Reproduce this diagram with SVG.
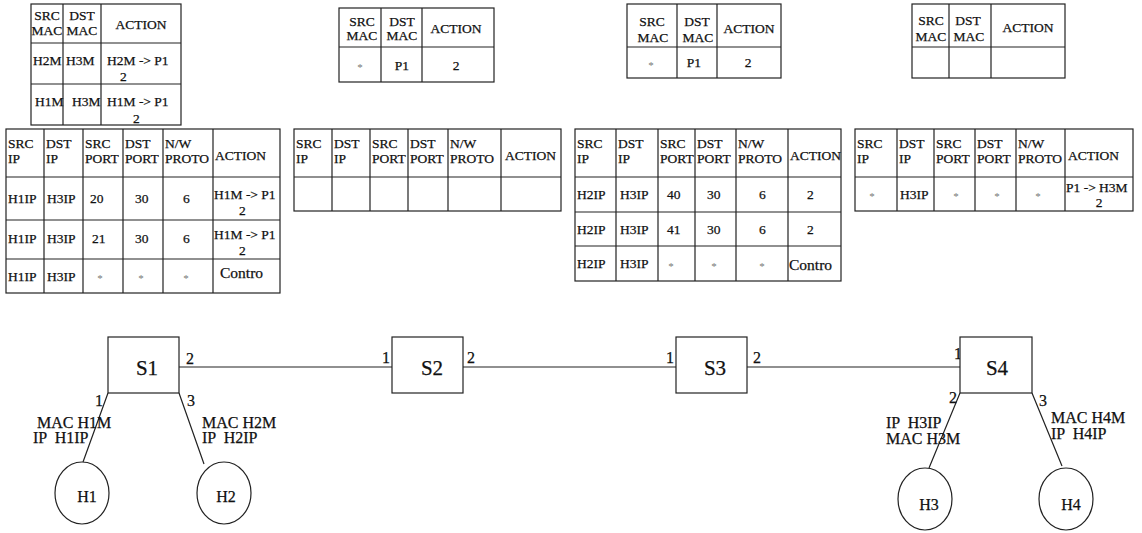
<svg xmlns="http://www.w3.org/2000/svg" width="1142" height="533" viewBox="0 0 1142 533">
<style>
text{font-family:'Liberation Serif','Times New Roman',Times,'DejaVu Serif',serif;stroke:#111;stroke-width:0.25}
.tb{fill:#fff;stroke:#222;stroke-width:1.2}
.gl{stroke:#222;stroke-width:1.2;fill:none}
.t{font-size:13.5px;fill:#111}
.c{text-anchor:middle}
.st{font-size:11px;fill:#777;stroke:none;text-anchor:middle}
.ct{font-size:15.5px;fill:#111}
.nd{fill:#fff;stroke:#222;stroke-width:1.2}
.nl{font-size:21px;fill:#111;text-anchor:middle}
.hl{font-size:16px;fill:#111;text-anchor:middle}
.lb{font-size:16px;fill:#111}
.ln{stroke:#222;stroke-width:1.2;fill:none}
</style>

<!-- S1 MAC table -->
<g id="s1-mac-table">
<rect class="tb" x="31" y="4" width="150" height="121"/>
<path class="gl" d="M63 4V125M101 4V125M31 43H181M31 84H181"/>
<text class="t c" x="47" y="20">SRC</text><text class="t c" x="47" y="35">MAC</text>
<text class="t c" x="82" y="20">DST</text><text class="t c" x="82" y="35">MAC</text>
<text class="t c" x="141" y="29">ACTION</text>
<text class="t" x="33" y="65">H2M</text><text class="t" x="66" y="65">H3M</text>
<text class="t" x="107" y="65">H2M -&gt; P1</text><text class="t" x="120" y="81">2</text>
<text class="t" x="35" y="106">H1M</text><text class="t" x="72" y="106">H3M</text>
<text class="t" x="107" y="106">H1M -&gt; P1</text><text class="t" x="133" y="123">2</text>
</g>

<!-- S1 IP table -->
<g id="s1-ip-table">
<rect class="tb" x="6" y="129" width="274" height="164"/>
<path class="gl" d="M44 129V293M83 129V293M123 129V293M163 129V293M213 129V293M6 177H280M6 220H280M6 259H280"/>
<text class="t" x="8" y="148">SRC</text><text class="t" x="8" y="163">IP</text>
<text class="t" x="46" y="148">DST</text><text class="t" x="46" y="163">IP</text>
<text class="t" x="85" y="148">SRC</text><text class="t" x="85" y="163">PORT</text>
<text class="t" x="125" y="148">DST</text><text class="t" x="125" y="163">PORT</text>
<text class="t" x="165" y="148">N/W</text><text class="t" x="165" y="163">PROTO</text>
<text class="t" x="215" y="160">ACTION</text>
<text class="t" x="8" y="203">H1IP</text><text class="t" x="47" y="203">H3IP</text>
<text class="t" x="90" y="203">20</text><text class="t" x="135" y="203">30</text><text class="t" x="183" y="203">6</text>
<text class="t" x="214" y="199">H1M -&gt; P1</text><text class="t" x="239" y="215">2</text>
<text class="t" x="8" y="243">H1IP</text><text class="t" x="47" y="243">H3IP</text>
<text class="t" x="92" y="243">21</text><text class="t" x="135" y="243">30</text><text class="t" x="183" y="243">6</text>
<text class="t" x="214" y="239">H1M -&gt; P1</text><text class="t" x="239" y="255">2</text>
<text class="t" x="8" y="281">H1IP</text><text class="t" x="47" y="281">H3IP</text>
<text class="st" x="100" y="282">*</text><text class="st" x="141" y="282">*</text><text class="st" x="186" y="282">*</text>
<text class="ct" x="220" y="278">Contro</text>
</g>

<!-- S2 MAC table -->
<g id="s2-mac-table">
<rect class="tb" x="339" y="8" width="155" height="74"/>
<path class="gl" d="M381 8V82M422 8V82M339 47H494"/>
<text class="t c" x="362" y="26">SRC</text><text class="t c" x="362" y="40">MAC</text>
<text class="t c" x="402" y="26">DST</text><text class="t c" x="402" y="40">MAC</text>
<text class="t c" x="456" y="33">ACTION</text>
<text class="st" x="360" y="71">*</text><text class="t c" x="402" y="70">P1</text><text class="t c" x="456" y="70">2</text>
</g>

<!-- S2 IP table -->
<g id="s2-ip-table">
<rect class="tb" x="294" y="129" width="267" height="82"/>
<path class="gl" d="M332 129V211M370 129V211M408 129V211M448 129V211M501 129V211M294 177H561"/>
<text class="t" x="296" y="148">SRC</text><text class="t" x="296" y="163">IP</text>
<text class="t" x="334" y="148">DST</text><text class="t" x="334" y="163">IP</text>
<text class="t" x="372" y="148">SRC</text><text class="t" x="372" y="163">PORT</text>
<text class="t" x="410" y="148">DST</text><text class="t" x="410" y="163">PORT</text>
<text class="t" x="450" y="148">N/W</text><text class="t" x="450" y="163">PROTO</text>
<text class="t" x="505" y="160">ACTION</text>
</g>

<!-- S3 MAC table -->
<g id="s3-mac-table">
<rect class="tb" x="627" y="4" width="154" height="74"/>
<path class="gl" d="M677 4V78M717 4V78M627 47H781"/>
<text class="t c" x="652" y="26">SRC</text><text class="t c" x="653" y="42">MAC</text>
<text class="t c" x="697" y="26">DST</text><text class="t c" x="698" y="42">MAC</text>
<text class="t c" x="749" y="33">ACTION</text>
<text class="st" x="651" y="69">*</text><text class="t c" x="694" y="67">P1</text><text class="t c" x="748" y="67">2</text>
</g>

<!-- S3 IP table -->
<g id="s3-ip-table">
<rect class="tb" x="575" y="129" width="266" height="152"/>
<path class="gl" d="M616 129V281M658 129V281M695 129V281M736 129V281M788 129V281M575 177H841M575 212H841M575 246H841"/>
<text class="t" x="577" y="148">SRC</text><text class="t" x="577" y="163">IP</text>
<text class="t" x="618" y="148">DST</text><text class="t" x="618" y="163">IP</text>
<text class="t" x="660" y="148">SRC</text><text class="t" x="660" y="163">PORT</text>
<text class="t" x="697" y="148">DST</text><text class="t" x="697" y="163">PORT</text>
<text class="t" x="738" y="148">N/W</text><text class="t" x="738" y="163">PROTO</text>
<text class="t" x="790" y="160">ACTION</text>
<text class="t" x="577" y="199">H2IP</text><text class="t" x="620" y="199">H3IP</text>
<text class="t" x="667" y="199">40</text><text class="t" x="707" y="199">30</text><text class="t" x="759" y="199">6</text><text class="t" x="807" y="199">2</text>
<text class="t" x="577" y="234">H2IP</text><text class="t" x="620" y="234">H3IP</text>
<text class="t" x="667" y="234">41</text><text class="t" x="707" y="234">30</text><text class="t" x="759" y="234">6</text><text class="t" x="807" y="234">2</text>
<text class="t" x="577" y="268">H2IP</text><text class="t" x="620" y="268">H3IP</text>
<text class="st" x="671" y="270">*</text><text class="st" x="714" y="270">*</text><text class="st" x="762" y="270">*</text>
<text class="ct" x="789" y="270">Contro</text>
</g>

<!-- S4 MAC table -->
<g id="s4-mac-table">
<rect class="tb" x="912" y="4" width="153" height="74"/>
<path class="gl" d="M949 4V78M991 4V78M912 47H1065"/>
<text class="t c" x="931" y="25">SRC</text><text class="t c" x="931" y="41">MAC</text>
<text class="t c" x="968" y="25">DST</text><text class="t c" x="969" y="41">MAC</text>
<text class="t c" x="1028" y="32">ACTION</text>
</g>

<!-- S4 IP table -->
<g id="s4-ip-table">
<rect class="tb" x="855" y="129" width="278" height="82"/>
<path class="gl" d="M897 129V211M934 129V211M975 129V211M1016 129V211M1065 129V211M855 177H1133"/>
<text class="t" x="857" y="148">SRC</text><text class="t" x="857" y="163">IP</text>
<text class="t" x="899" y="148">DST</text><text class="t" x="899" y="163">IP</text>
<text class="t" x="936" y="148">SRC</text><text class="t" x="936" y="163">PORT</text>
<text class="t" x="977" y="148">DST</text><text class="t" x="977" y="163">PORT</text>
<text class="t" x="1018" y="148">N/W</text><text class="t" x="1018" y="163">PROTO</text>
<text class="t" x="1068" y="160">ACTION</text>
<text class="st" x="872" y="200">*</text><text class="t" x="900" y="199">H3IP</text>
<text class="st" x="956" y="200">*</text><text class="st" x="997" y="200">*</text><text class="st" x="1038" y="200">*</text>
<text class="t" x="1066" y="192">P1 -&gt; H3M</text><text class="t c" x="1099" y="207">2</text>
</g>

<!-- connectors -->
<g id="connectors">
<path class="ln" d="M179 367H392M463 367H676M747 367H960"/>
<path class="ln" d="M108 393L83 462M179 393L204 464M960 393L929 468M1032 393L1062 466"/>
<text class="lb" x="186" y="364">2</text>
<text class="lb" x="382" y="363">1</text>
<text class="lb" x="467" y="363">2</text>
<text class="lb" x="666" y="363">1</text>
<text class="lb" x="753" y="363">2</text>
<text class="lb" x="954" y="359">1</text>
<text class="lb" x="95" y="406">1</text>
<text class="lb" x="187" y="406">3</text>
<text class="lb" x="949" y="403">2</text>
<text class="lb" x="1039" y="406">3</text>
<text class="lb" x="37" y="428">MAC H1M</text>
<text class="lb" x="33" y="443" xml:space="preserve">IP  H1IP</text>
<text class="lb" x="202" y="428">MAC H2M</text>
<text class="lb" x="202" y="443" xml:space="preserve">IP  H2IP</text>
<text class="lb" x="886" y="428" xml:space="preserve">IP  H3IP</text>
<text class="lb" x="886" y="444">MAC H3M</text>
<text class="lb" x="1051" y="423">MAC H4M</text>
<text class="lb" x="1051" y="439" xml:space="preserve">IP  H4IP</text>
</g>

<!-- switches -->
<g id="S1"><rect class="nd" x="108" y="337" width="71" height="56"/><text class="nl" x="147" y="375">S1</text></g>
<g id="S2"><rect class="nd" x="392" y="337" width="71" height="56"/><text class="nl" x="432" y="375">S2</text></g>
<g id="S3"><rect class="nd" x="676" y="337" width="71" height="56"/><text class="nl" x="715" y="375">S3</text></g>
<g id="S4"><rect class="nd" x="960" y="337" width="72" height="56"/><text class="nl" x="997" y="375">S4</text></g>

<!-- hosts -->
<g id="H1"><ellipse class="nd" cx="82" cy="493" rx="27" ry="31"/><text class="hl" x="87" y="502">H1</text></g>
<g id="H2"><ellipse class="nd" cx="224" cy="493" rx="27" ry="31"/><text class="hl" x="226" y="502">H2</text></g>
<g id="H3"><ellipse class="nd" cx="925" cy="499" rx="27" ry="31"/><text class="hl" x="929" y="510">H3</text></g>
<g id="H4"><ellipse class="nd" cx="1066" cy="499" rx="27" ry="31"/><text class="hl" x="1071" y="510">H4</text></g>
</svg>
